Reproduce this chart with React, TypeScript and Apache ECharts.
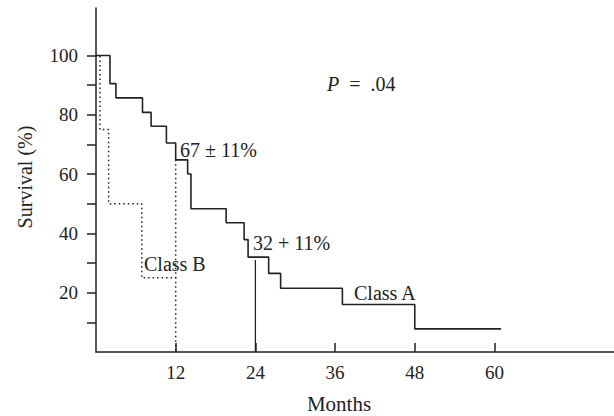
import React, { useEffect, useRef } from "react";
import * as echarts from "echarts";

// Kaplan–Meier curves (months, survival %)
const classAMonths = [0, 2.1, 3.0, 7.0, 8.3, 10.6, 12.0, 13.8, 14.3, 19.6, 22.3, 22.9, 26.0, 27.8, 37.1, 48.0, 61.0];
const classASurvival = [100, 90.5, 85.7, 80.8, 76.1, 70.5, 64.8, 60.0, 48.3, 43.6, 37.9, 32.0, 26.5, 21.5, 16.0, 7.8, 7.8];

const classBMonths = [0, 0.6, 1.9, 6.9, 12.0];
const classBSurvival = [100, 75, 50, 25, 0];

// reference markers at 12 and 24 months
const marker12 = [[12, 64.8], [12, 25]];
const marker24 = [[24, 31], [24, 0]];

const xTicks = [12, 24, 36, 48, 60];
const yTicks = [10, 20, 30, 40, 50, 60, 70, 80, 90, 100];
const yLabels = [20, 40, 60, 80, 100];

const FONT = "'Liberation Serif', 'Times New Roman', serif";
const INK = "#222";

export default function App() {
  const ref = useRef<HTMLDivElement>(null);
  useEffect(() => {
    if (!ref.current) return;
    const chart = echarts.init(ref.current, undefined, { renderer: "svg" });
    const aData = classAMonths.map((m, i) => [m, classASurvival[i]]);
    const bData = classBMonths.map((m, i) => [m, classBSurvival[i]]);
    const note = (text: string, x: number, y: number) => ({
      type: "text",
      x,
      y,
      style: {
        text,
        fill: INK,
        fontFamily: FONT,
        fontSize: 20,
        verticalAlign: "middle",
        align: "left",
      },
    });
    chart.setOption({
      animation: false,
      backgroundColor: "#fff",
      grid: { left: 96, right: 0, top: 8, bottom: 64, containLabel: false },
      xAxis: {
        type: "value",
        min: 0,
        max: 78,
        axisLine: { show: true, lineStyle: { color: INK, width: 1.5 } },
        splitLine: { show: false },
        axisTick: {
          show: true,
          inside: true,
          length: 9,
          customValues: xTicks,
          lineStyle: { color: INK, width: 1.5 },
        },
        axisLabel: {
          customValues: xTicks,
          margin: 11,
          color: INK,
          fontFamily: FONT,
          fontSize: 19,
        },
      },
      yAxis: {
        type: "value",
        min: 0,
        max: 116,
        axisLine: { show: true, lineStyle: { color: INK, width: 1.5 } },
        splitLine: { show: false },
        axisTick: {
          show: true,
          length: 9,
          customValues: yTicks,
          lineStyle: { color: INK, width: 1.5 },
        },
        axisLabel: {
          customValues: yLabels,
          margin: 18,
          color: INK,
          fontFamily: FONT,
          fontSize: 19,
        },
      },
      series: [
        {
          name: "Class A",
          type: "line",
          step: "end",
          data: aData,
          symbol: "none",
          lineStyle: { color: INK, width: 1.6 },
        },
        {
          name: "Class B",
          type: "line",
          step: "end",
          data: bData,
          symbol: "none",
          lineStyle: { color: INK, width: 1.5, type: [1.5, 3] },
        },
        {
          name: "12 months",
          type: "line",
          data: marker12,
          symbol: "none",
          lineStyle: { color: INK, width: 1.5, type: [1.5, 3] },
        },
        {
          name: "24 months",
          type: "line",
          data: marker24,
          symbol: "none",
          lineStyle: { color: INK, width: 1.3 },
        },
      ],
      graphic: [
        {
          type: "text",
          x: 327,
          y: 84,
          style: {
            text: "{i|P}  =  .04",
            fill: INK,
            fontFamily: FONT,
            fontSize: 20,
            verticalAlign: "middle",
            rich: { i: { fontStyle: "italic", fontFamily: FONT, fontSize: 20, fill: INK } },
          },
        },
        note("67 ± 11%", 180, 150),
        note("32 + 11%", 253, 243),
        note("Class B", 144, 264),
        note("Class A", 354, 293),
        {
          type: "text",
          x: 339,
          y: 404,
          style: {
            text: "Months",
            fill: INK,
            fontFamily: FONT,
            fontSize: 21,
            align: "center",
            verticalAlign: "middle",
          },
        },
        {
          type: "text",
          x: 25,
          y: 177,
          rotation: Math.PI / 2,
          style: {
            text: "Survival (%)",
            fill: INK,
            fontFamily: FONT,
            fontSize: 20,
            align: "center",
            verticalAlign: "middle",
          },
        },
      ],
    });
    return () => chart.dispose();
  }, []);
  return <div ref={ref} style={{ width: 614, height: 416, position: "absolute", left: 0, top: 0 }} />;
}
